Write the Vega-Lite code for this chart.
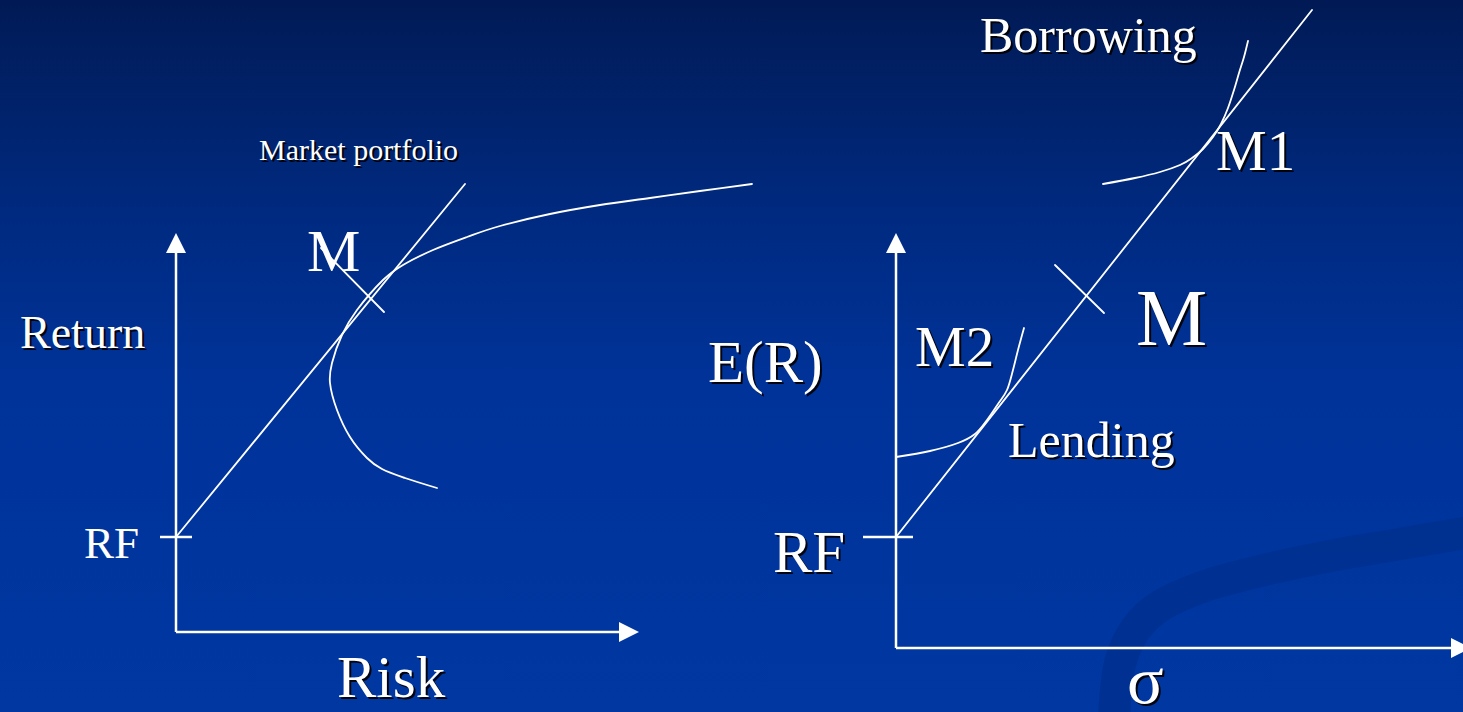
{
  "$schema": "https://vega.github.io/schema/vega-lite/v6.json",
  "width": 1463,
  "height": 712,
  "autosize": {"type": "none"},
  "padding": 0,
  "background": "#0036a0",
  "config": {"view": {"stroke": null}},
  "datasets": {
    "bg": [{"x0": 0, "x1": 1463, "y0": 0, "y1": 712}],
    "band": [
      {"ord": 1, "x": 1114, "y": 720},
      {"ord": 2, "x": 1116, "y": 690},
      {"ord": 3, "x": 1121, "y": 660},
      {"ord": 4, "x": 1135, "y": 630},
      {"ord": 5, "x": 1160, "y": 606},
      {"ord": 6, "x": 1205, "y": 586},
      {"ord": 7, "x": 1260, "y": 571},
      {"ord": 8, "x": 1330, "y": 556},
      {"ord": 9, "x": 1400, "y": 544},
      {"ord": 10, "x": 1470, "y": 532}
    ],
    "segments": [
      {"id": "leftY", "part": "axis", "ord": 1, "x": 176, "y": 632},
      {"id": "leftY", "part": "axis", "ord": 2, "x": 176, "y": 252},
      {"id": "leftX", "part": "axis", "ord": 1, "x": 176, "y": 632},
      {"id": "leftX", "part": "axis", "ord": 2, "x": 621, "y": 632},
      {"id": "leftRF", "part": "axis", "ord": 1, "x": 160, "y": 537},
      {"id": "leftRF", "part": "axis", "ord": 2, "x": 192, "y": 537},
      {"id": "rightY", "part": "axis", "ord": 1, "x": 896, "y": 648},
      {"id": "rightY", "part": "axis", "ord": 2, "x": 896, "y": 252},
      {"id": "rightX", "part": "axis", "ord": 1, "x": 896, "y": 648},
      {"id": "rightX", "part": "axis", "ord": 2, "x": 1452, "y": 648},
      {"id": "rightRF", "part": "axis", "ord": 1, "x": 863, "y": 537},
      {"id": "rightRF", "part": "axis", "ord": 2, "x": 913, "y": 537},
      {"id": "leftCML", "part": "curve", "ord": 1, "x": 176, "y": 537},
      {"id": "leftCML", "part": "curve", "ord": 2, "x": 465, "y": 184},
      {"id": "leftM", "part": "curve", "ord": 1, "x": 321, "y": 248},
      {"id": "leftM", "part": "curve", "ord": 2, "x": 384, "y": 312},
      {"id": "frontier", "part": "curve", "ord": 1, "x": 437, "y": 488},
      {"id": "frontier", "part": "curve", "ord": 2, "x": 405, "y": 478},
      {"id": "frontier", "part": "curve", "ord": 3, "x": 382, "y": 469},
      {"id": "frontier", "part": "curve", "ord": 4, "x": 367, "y": 458},
      {"id": "frontier", "part": "curve", "ord": 5, "x": 350, "y": 437},
      {"id": "frontier", "part": "curve", "ord": 6, "x": 337, "y": 410},
      {"id": "frontier", "part": "curve", "ord": 7, "x": 330, "y": 383},
      {"id": "frontier", "part": "curve", "ord": 8, "x": 332, "y": 363},
      {"id": "frontier", "part": "curve", "ord": 9, "x": 342, "y": 335},
      {"id": "frontier", "part": "curve", "ord": 10, "x": 357, "y": 310},
      {"id": "frontier", "part": "curve", "ord": 11, "x": 383, "y": 280},
      {"id": "frontier", "part": "curve", "ord": 12, "x": 403, "y": 265},
      {"id": "frontier", "part": "curve", "ord": 13, "x": 433, "y": 250},
      {"id": "frontier", "part": "curve", "ord": 14, "x": 467, "y": 237},
      {"id": "frontier", "part": "curve", "ord": 15, "x": 500, "y": 226},
      {"id": "frontier", "part": "curve", "ord": 16, "x": 550, "y": 214},
      {"id": "frontier", "part": "curve", "ord": 17, "x": 600, "y": 205},
      {"id": "frontier", "part": "curve", "ord": 18, "x": 650, "y": 198},
      {"id": "frontier", "part": "curve", "ord": 19, "x": 700, "y": 191},
      {"id": "frontier", "part": "curve", "ord": 20, "x": 752, "y": 184},
      {"id": "rightCML", "part": "curve", "ord": 1, "x": 896, "y": 537},
      {"id": "rightCML", "part": "curve", "ord": 2, "x": 1312, "y": 10},
      {"id": "rightM", "part": "curve", "ord": 1, "x": 1055, "y": 265},
      {"id": "rightM", "part": "curve", "ord": 2, "x": 1104, "y": 313},
      {"id": "M2curve", "part": "curve", "ord": 1, "x": 896, "y": 457},
      {"id": "M2curve", "part": "curve", "ord": 2, "x": 930, "y": 451},
      {"id": "M2curve", "part": "curve", "ord": 3, "x": 958, "y": 443},
      {"id": "M2curve", "part": "curve", "ord": 4, "x": 975, "y": 434},
      {"id": "M2curve", "part": "curve", "ord": 5, "x": 987, "y": 420},
      {"id": "M2curve", "part": "curve", "ord": 6, "x": 998, "y": 404},
      {"id": "M2curve", "part": "curve", "ord": 7, "x": 1007, "y": 390},
      {"id": "M2curve", "part": "curve", "ord": 8, "x": 1013, "y": 370},
      {"id": "M2curve", "part": "curve", "ord": 9, "x": 1018, "y": 350},
      {"id": "M2curve", "part": "curve", "ord": 10, "x": 1024, "y": 328},
      {"id": "M1curve", "part": "curve", "ord": 1, "x": 1103, "y": 184},
      {"id": "M1curve", "part": "curve", "ord": 2, "x": 1135, "y": 178},
      {"id": "M1curve", "part": "curve", "ord": 3, "x": 1160, "y": 172},
      {"id": "M1curve", "part": "curve", "ord": 4, "x": 1180, "y": 165},
      {"id": "M1curve", "part": "curve", "ord": 5, "x": 1192, "y": 158},
      {"id": "M1curve", "part": "curve", "ord": 6, "x": 1203, "y": 149},
      {"id": "M1curve", "part": "curve", "ord": 7, "x": 1213, "y": 137},
      {"id": "M1curve", "part": "curve", "ord": 8, "x": 1221, "y": 124},
      {"id": "M1curve", "part": "curve", "ord": 9, "x": 1228, "y": 108},
      {"id": "M1curve", "part": "curve", "ord": 10, "x": 1234, "y": 90},
      {"id": "M1curve", "part": "curve", "ord": 11, "x": 1239, "y": 73},
      {"id": "M1curve", "part": "curve", "ord": 12, "x": 1244, "y": 57},
      {"id": "M1curve", "part": "curve", "ord": 13, "x": 1248, "y": 41}
    ],
    "arrows": [
      {"dir": "up", "x": 176, "y": 243},
      {"dir": "right", "x": 629, "y": 632},
      {"dir": "up", "x": 896, "y": 243},
      {"dir": "right", "x": 1461, "y": 648}
    ],
    "labels": [
      {"text": "Market portfolio", "kind": "note", "x": 259, "y": 160},
      {"text": "M", "kind": "plainPoint", "x": 307, "y": 271},
      {"text": "Return", "kind": "axisLabel", "x": 20, "y": 348},
      {"text": "RF", "kind": "plainTick", "x": 84, "y": 558},
      {"text": "Risk", "kind": "title", "x": 337, "y": 697},
      {"text": "Borrowing", "kind": "region", "x": 980, "y": 52},
      {"text": "M1", "kind": "portfolio", "x": 1216, "y": 170},
      {"text": "M", "kind": "market", "x": 1136, "y": 345},
      {"text": "M2", "kind": "portfolio", "x": 915, "y": 366},
      {"text": "E(R)", "kind": "title", "x": 708, "y": 382},
      {"text": "Lending", "kind": "region", "x": 1008, "y": 457},
      {"text": "RF", "kind": "title", "x": 773, "y": 572},
      {"text": "σ", "kind": "sigma", "x": 1127, "y": 703}
    ]
  },
  "encoding": {},
  "layer": [
    {
      "data": {"name": "bg"},
      "mark": {
        "type": "rect",
        "color": {
          "gradient": "linear",
          "x1": 0, "y1": 0, "x2": 0, "y2": 1,
          "stops": [
            {"offset": 0, "color": "#011a55"},
            {"offset": 0.3, "color": "#002a80"},
            {"offset": 0.55, "color": "#00339a"},
            {"offset": 1, "color": "#0037a1"}
          ]
        }
      },
      "encoding": {
        "x": {"field": "x0", "type": "quantitative", "scale": {"domain": [0, 1463], "nice": false, "zero": false}, "axis": null},
        "x2": {"field": "x1"},
        "y": {"field": "y0", "type": "quantitative", "scale": {"domain": [0, 712], "nice": false, "zero": false, "reverse": true}, "axis": null},
        "y2": {"field": "y1"}
      }
    },
    {
      "data": {"name": "band"},
      "mark": {"type": "line", "interpolate": "cardinal", "stroke": "#002f8c", "strokeWidth": 32, "strokeCap": "butt", "opacity": 0.75, "clip": true},
      "encoding": {
        "x": {"field": "x", "type": "quantitative", "axis": null},
        "y": {"field": "y", "type": "quantitative", "axis": null},
        "order": {"field": "ord"}
      }
    },
    {
      "data": {"name": "segments"},
      "transform": [{"filter": "datum.part === 'axis'"}],
      "mark": {"type": "line", "stroke": "white", "strokeWidth": 2.5, "strokeCap": "butt"},
      "encoding": {
        "x": {"field": "x", "type": "quantitative", "axis": null},
        "y": {"field": "y", "type": "quantitative", "axis": null},
        "detail": {"field": "id"},
        "order": {"field": "ord"}
      }
    },
    {
      "data": {"name": "segments"},
      "transform": [{"filter": "datum.part === 'curve'"}],
      "mark": {"type": "line", "stroke": "white", "strokeWidth": 1.8, "interpolate": "cardinal", "strokeCap": "round"},
      "encoding": {
        "x": {"field": "x", "type": "quantitative", "axis": null},
        "y": {"field": "y", "type": "quantitative", "axis": null},
        "detail": {"field": "id"},
        "order": {"field": "ord"}
      }
    },
    {
      "data": {"name": "arrows"},
      "mark": {"type": "point", "filled": true, "fill": "white", "stroke": null, "size": 400, "opacity": 1},
      "encoding": {
        "x": {"field": "x", "type": "quantitative", "axis": null},
        "y": {"field": "y", "type": "quantitative", "axis": null},
        "shape": {"field": "dir", "type": "nominal", "legend": null, "scale": {"domain": ["up", "right"], "range": ["M0,-1L1,1L-1,1Z", "M1,0L-1,-1L-1,1Z"]}}
      }
    },
    {
      "data": {"name": "labels"},
      "transform": [{"filter": "datum.kind !== 'plainPoint' && datum.kind !== 'plainTick'"}],
      "mark": {"type": "text", "font": "Liberation Serif", "align": "left", "baseline": "alphabetic", "fill": "black", "dx": 2, "dy": 2, "opacity": 0.9},
      "encoding": {
        "x": {"field": "x", "type": "quantitative", "axis": null},
        "y": {"field": "y", "type": "quantitative", "axis": null},
        "text": {"field": "text"},
        "size": {"field": "kind", "type": "nominal", "legend": null, "scale": {"type": "ordinal", "domain": ["note", "plainPoint", "axisLabel", "plainTick", "title", "region", "portfolio", "market", "sigma"], "range": [30, 60, 46, 45, 59, 50, 57, 80, 68]}}
      }
    },
    {
      "data": {"name": "labels"},
      "mark": {"type": "text", "font": "Liberation Serif", "align": "left", "baseline": "alphabetic", "fill": "white"},
      "encoding": {
        "x": {"field": "x", "type": "quantitative", "axis": null},
        "y": {"field": "y", "type": "quantitative", "axis": null},
        "text": {"field": "text"},
        "size": {"field": "kind", "type": "nominal", "legend": null, "scale": {"type": "ordinal", "domain": ["note", "plainPoint", "axisLabel", "plainTick", "title", "region", "portfolio", "market", "sigma"], "range": [30, 60, 46, 45, 59, 50, 57, 80, 68]}}
      }
    }
  ]
}
